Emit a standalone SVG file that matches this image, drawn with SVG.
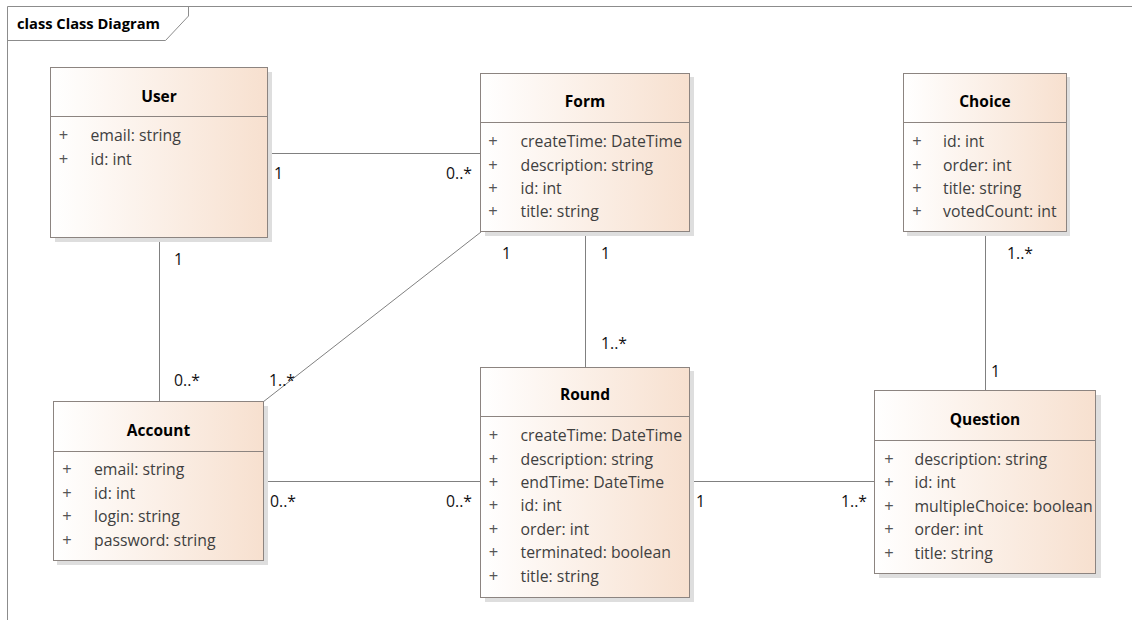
<svg xmlns="http://www.w3.org/2000/svg" width="1132" height="635" viewBox="0 0 1132 635">
<defs>
<linearGradient id="g" x1="0" y1="0" x2="1" y2="0">
<stop offset="0" stop-color="#FFFFFF"/>
<stop offset="1" stop-color="#F7E0CF"/>
</linearGradient>
<style>
.sh{fill:#DEDEDE;}
.box{fill:url(#g);stroke:#8C8480;stroke-width:1;}
.div{stroke:#8C8480;stroke-width:1;}
.t{font-family:"Open Sans","Noto Sans",sans-serif;font-size:15.5px;font-weight:bold;fill:#000;text-anchor:middle;}
.a{font-family:"Open Sans","Noto Sans",sans-serif;font-size:15.8px;fill:#3F3F3F;}
.p{font-family:"Open Sans","Noto Sans",sans-serif;font-size:16.5px;fill:#555555;text-anchor:middle;}
.m{font-family:"Open Sans","Noto Sans",sans-serif;font-size:15.8px;fill:#111;}
.c{stroke:#808080;stroke-width:1;fill:none;}
.f{stroke:#8C8C8C;stroke-width:1;fill:none;}
.ft{font-family:"Open Sans","Noto Sans",sans-serif;font-size:14.7px;font-weight:bold;fill:#000;}
</style>
</defs>
<rect width="1132" height="635" fill="#FFFFFF"/>
<g id="frame">
<path class="f" d="M7.5,6.5 H1132 M7.5,6.5 V620 M7.5,40.5 H165.5 L188.5,16 V6.5"/>
<text class="ft" x="17" y="28.5">class Class Diagram</text>
</g>
<g id="connectors">
<line class="c" x1="268" y1="153.5" x2="481" y2="153.5"/>
<line class="c" x1="159.5" y1="238" x2="159.5" y2="402"/>
<line class="c" x1="481" y1="232" x2="263" y2="402"/>
<line class="c" x1="585.5" y1="232" x2="585.5" y2="367"/>
<line class="c" x1="264" y1="481.5" x2="481" y2="481.5"/>
<line class="c" x1="690" y1="481.5" x2="874" y2="481.5"/>
<line class="c" x1="985.5" y1="232" x2="985.5" y2="391"/>
<text class="m" x="274" y="179">1</text>
<text class="m" x="446" y="179">0..*</text>
<text class="m" x="174" y="265">1</text>
<text class="m" x="174" y="386">0..*</text>
<text class="m" x="269" y="386">1..*</text>
<text class="m" x="502" y="259">1</text>
<text class="m" x="601" y="259">1</text>
<text class="m" x="601" y="349">1..*</text>
<text class="m" x="270" y="507">0..*</text>
<text class="m" x="446" y="507">0..*</text>
<text class="m" x="696" y="507">1</text>
<text class="m" x="841" y="507">1..*</text>
<text class="m" x="1007" y="259">1..*</text>
<text class="m" x="991" y="377">1</text>
</g>
<g id="User">
<rect class="sh" x="55" y="72" width="217" height="170"/>
<rect class="box" x="50.5" y="67.5" width="217" height="170"/>
<line class="div" x1="50.5" y1="116.5" x2="267.5" y2="116.5"/>
<text class="t" x="159" y="101.5">User</text>
<text class="p" x="63.5" y="141">+</text><text class="a" x="90.5" y="141">email: string</text>
<text class="p" x="63.5" y="164.5">+</text><text class="a" x="90.5" y="164.5">id: int</text>
</g>
<g id="Form">
<rect class="sh" x="485" y="77" width="209" height="159"/>
<rect class="box" x="480.5" y="73.5" width="209" height="158"/>
<line class="div" x1="480.5" y1="122.5" x2="689.5" y2="122.5"/>
<text class="t" x="585" y="106.5">Form</text>
<text class="p" x="493" y="146.5">+</text><text class="a" x="520.5" y="146.5">createTime: DateTime</text>
<text class="p" x="493" y="170.5">+</text><text class="a" x="520.5" y="170.5">description: string</text>
<text class="p" x="493" y="193.5">+</text><text class="a" x="520.5" y="193.5">id: int</text>
<text class="p" x="493" y="217">+</text><text class="a" x="520.5" y="217">title: string</text>
</g>
<g id="Choice">
<rect class="sh" x="907" y="77" width="163" height="159"/>
<rect class="box" x="903.5" y="73.5" width="163" height="158"/>
<line class="div" x1="903.5" y1="122.5" x2="1066.5" y2="122.5"/>
<text class="t" x="985" y="106.5">Choice</text>
<text class="p" x="917" y="146.5">+</text><text class="a" x="943" y="146.5">id: int</text>
<text class="p" x="917" y="170.5">+</text><text class="a" x="943" y="170.5">order: int</text>
<text class="p" x="917" y="193.5">+</text><text class="a" x="943" y="193.5">title: string</text>
<text class="p" x="917" y="217">+</text><text class="a" x="943" y="217">votedCount: int</text>
</g>
<g id="Account">
<rect class="sh" x="57" y="406" width="211" height="159"/>
<rect class="box" x="53.5" y="401.5" width="210" height="159"/>
<line class="div" x1="53.5" y1="451.5" x2="263.5" y2="451.5"/>
<text class="t" x="158.5" y="435.5">Account</text>
<text class="p" x="67" y="474.5">+</text><text class="a" x="94" y="474.5">email: string</text>
<text class="p" x="67" y="498.5">+</text><text class="a" x="94" y="498.5">id: int</text>
<text class="p" x="67" y="522">+</text><text class="a" x="94" y="522">login: string</text>
<text class="p" x="67" y="545.5">+</text><text class="a" x="94" y="545.5">password: string</text>
</g>
<g id="Round">
<rect class="sh" x="485" y="371" width="209" height="231"/>
<rect class="box" x="480.5" y="367.5" width="209" height="230"/>
<line class="div" x1="480.5" y1="416.5" x2="689.5" y2="416.5"/>
<text class="t" x="585" y="399.5">Round</text>
<text class="p" x="493.5" y="440.5">+</text><text class="a" x="520.5" y="440.5">createTime: DateTime</text>
<text class="p" x="493.5" y="464.5">+</text><text class="a" x="520.5" y="464.5">description: string</text>
<text class="p" x="493.5" y="487.5">+</text><text class="a" x="520.5" y="487.5">endTime: DateTime</text>
<text class="p" x="493.5" y="511">+</text><text class="a" x="520.5" y="511">id: int</text>
<text class="p" x="493.5" y="534.5">+</text><text class="a" x="520.5" y="534.5">order: int</text>
<text class="p" x="493.5" y="558">+</text><text class="a" x="520.5" y="558">terminated: boolean</text>
<text class="p" x="493.5" y="582">+</text><text class="a" x="520.5" y="582">title: string</text>
</g>
<g id="Question">
<rect class="sh" x="879" y="395" width="222" height="183"/>
<rect class="box" x="874.5" y="390.5" width="221" height="183"/>
<line class="div" x1="874.5" y1="440.5" x2="1095.5" y2="440.5"/>
<text class="t" x="985" y="424.5">Question</text>
<text class="p" x="889" y="464.5">+</text><text class="a" x="914.5" y="464.5">description: string</text>
<text class="p" x="889" y="488">+</text><text class="a" x="914.5" y="488">id: int</text>
<text class="p" x="889" y="511.5">+</text><text class="a" x="914.5" y="511.5">multipleChoice: boolean</text>
<text class="p" x="889" y="535">+</text><text class="a" x="914.5" y="535">order: int</text>
<text class="p" x="889" y="558.5">+</text><text class="a" x="914.5" y="558.5">title: string</text>
</g>
</svg>
